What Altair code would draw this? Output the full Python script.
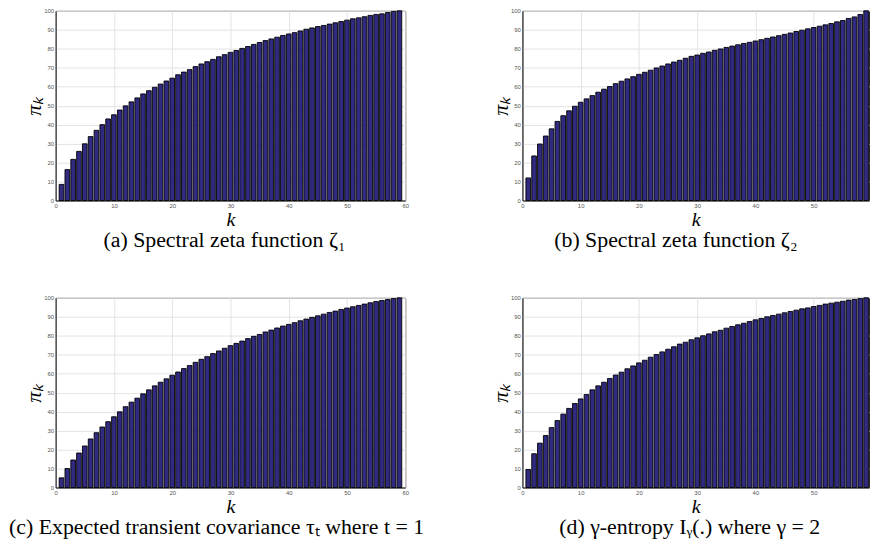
import altair as alt
import pandas as pd

K = list(range(1, 60))

PI_A = [8.5, 16.3, 21.7, 25.9, 29.9, 33.7, 37.0, 40.0, 43.0, 45.2,
        47.7, 49.9, 52.0, 54.1, 56.2, 57.9, 59.7, 61.4, 63.0, 64.5,
        66.3, 67.7, 69.0, 70.6, 72.0, 73.2, 74.4, 75.8, 76.9, 78.1,
        79.1, 80.2, 81.2, 82.3, 83.3, 84.3, 85.2, 86.1, 87.0, 87.8,
        88.5, 89.4, 90.3, 91.0, 91.7, 92.3, 93.0, 93.7, 94.4, 95.1,
        95.8, 96.3, 96.9, 97.6, 98.1, 98.4, 99.1, 99.7, 100.0]

PI_B = [11.9, 23.5, 29.8, 34.0, 37.8, 41.7, 44.7, 47.3, 49.7, 51.8,
        53.6, 55.3, 57.1, 58.7, 60.1, 61.6, 62.9, 64.1, 65.3, 66.5,
        67.6, 68.7, 69.9, 70.9, 72.0, 73.0, 73.9, 75.0, 76.0, 76.7,
        77.6, 78.3, 79.2, 79.9, 80.7, 81.4, 82.1, 82.8, 83.4, 84.1,
        84.8, 85.5, 86.2, 86.9, 87.6, 88.3, 89.1, 89.8, 90.5, 91.2,
        91.9, 92.6, 93.3, 94.2, 94.9, 96.0, 96.8, 98.1, 100.0]

PI_C = [5.1, 10.0, 14.5, 18.2, 21.9, 25.6, 28.9, 31.9, 34.7, 37.3,
        39.9, 42.6, 45.0, 47.1, 49.4, 51.5, 53.6, 55.5, 57.3, 59.2,
        60.9, 62.7, 64.3, 66.0, 67.6, 69.0, 70.6, 72.0, 73.4, 74.8,
        76.0, 77.2, 78.5, 79.7, 80.7, 82.0, 83.0, 84.1, 85.1, 86.0,
        86.9, 87.9, 88.8, 89.7, 90.5, 91.4, 92.3, 93.0, 93.9, 94.6,
        95.3, 96.0, 96.7, 97.4, 98.1, 98.6, 99.1, 99.6, 100.0]

PI_D = [9.5, 17.8, 23.4, 27.4, 31.6, 35.3, 38.7, 41.7, 44.3, 46.7,
        49.0, 51.5, 53.6, 55.5, 57.5, 59.3, 60.8, 62.6, 64.1, 65.7,
        67.1, 68.7, 70.1, 71.5, 72.9, 74.2, 75.6, 76.6, 77.9, 78.9,
        80.0, 81.0, 82.1, 82.9, 84.0, 84.9, 85.8, 86.6, 87.5, 88.4,
        89.1, 90.0, 90.7, 91.4, 92.1, 92.8, 93.5, 94.2, 94.7, 95.4,
        96.0, 96.7, 97.2, 97.7, 98.2, 98.8, 99.1, 99.6, 100.0]

CAPTIONS = [
    "(a) Spectral zeta function ζ₁",
    "(b) Spectral zeta function ζ₂",
    "(c) Expected transient covariance τₜ where t = 1",
    "(d) γ-entropy Iᵧ(.) where γ = 2",
]
CAPTION_DX = [-6, -20, -14, -6]

X_TICKS_FULL = [0, 10, 20, 30, 40, 50, 60]
X_TICKS_CUT = [0, 10, 20, 30, 40, 50]
Y_TICKS = [0, 10, 20, 30, 40, 50, 60, 70, 80, 90, 100]

FILL = "#302a80"
SERIF = "Liberation Serif"
SANS = "Liberation Sans"


def panel(vals, caption, dx, cut):
    df = pd.DataFrame({"k": K, "pi": vals})
    x_max = 59.5 if cut else 60
    w = 349 if cut else 352
    return (
        alt.Chart(df)
        .transform_calculate(x0="datum.k - 0.4", x1="datum.k + 0.4")
        .mark_bar(fill=FILL, stroke="black", strokeWidth=0.9)
        .encode(
            x=alt.X(
                "x0:Q",
                scale=alt.Scale(domain=[0, x_max], nice=False, zero=False),
                axis=alt.Axis(
                    values=X_TICKS_CUT if cut else X_TICKS_FULL, title="k",
                    titleFont=SERIF, titleFontStyle="italic",
                    titleFontWeight="normal", titleFontSize=20,
                    titleColor="black", titlePadding=1,
                    labelFont=SANS, labelFontSize=6, labelColor="#555555",
                    labelPadding=2, ticks=False, domainColor="#262626",
                    gridColor="#e3e3e3", labelFlush=False,
                ),
            ),
            x2="x1:Q",
            y=alt.Y(
                "pi:Q",
                scale=alt.Scale(domain=[0, 100], nice=False),
                axis=alt.Axis(
                    values=Y_TICKS, title="πₖ", titleFont=SERIF,
                    titleFontStyle="italic", titleFontWeight="normal",
                    titleFontSize=22, titleColor="black", titlePadding=-2,
                    labelFont=SANS, labelFontSize=6, labelColor="#555555",
                    labelPadding=2, ticks=False, domainColor="#262626",
                    gridColor="#e3e3e3", labelFlush=False,
                ),
            ),
            y2=alt.datum(0),
        )
        .properties(
            width=w,
            height=191,
            title=alt.TitleParams(
                text=caption, orient="bottom", anchor="middle", frame="group",
                dx=dx, offset=1, font=SERIF, fontSize=22,
                fontWeight="normal", color="black",
            ),
        )
    )


panels = [
    panel(v, c, d, cut)
    for v, c, d, cut in zip([PI_A, PI_B, PI_C, PI_D], CAPTIONS, CAPTION_DX,
                            [False, True, False, True])
]

chart = (
    alt.concat(*panels, columns=2, spacing={"row": 98, "column": 118})
    .properties(bounds="flush", padding={"left": 0, "top": -3, "right": 0, "bottom": 0},
                background="white")
    .configure_view(stroke="#262626", strokeWidth=1)
)

chart.save("out.html", embed_options={"renderer": "svg", "actions": False})
